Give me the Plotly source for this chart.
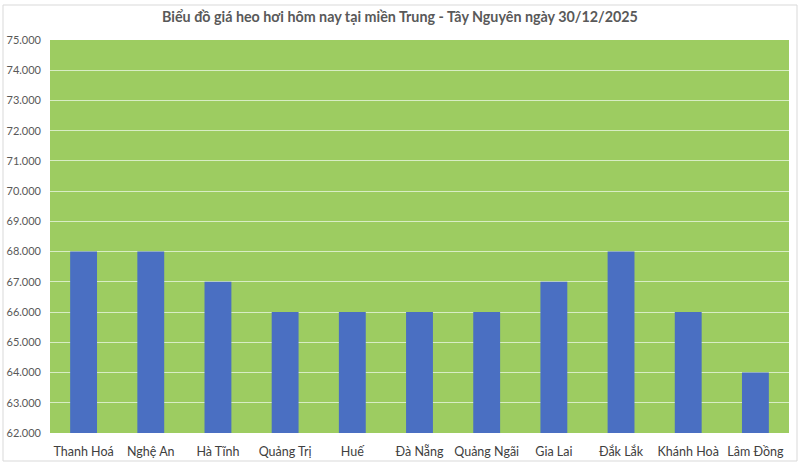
import plotly.graph_objects as go

provinces = ["Thanh Hoá", "Nghệ An", "Hà Tĩnh", "Quảng Trị", "Huế", "Đà Nẵng",
             "Quảng Ngãi", "Gia Lai", "Đắk Lắk", "Khánh Hoà", "Lâm Đồng"]
prices = [68000, 68000, 67000, 66000, 66000, 66000, 66000, 67000, 68000, 66000, 64000]
y_ticks = list(range(62000, 75001, 1000))

W, H = 800, 468
ml, mr, mt, mb = 50, 11, 40, 35
pw, ph = W - ml - mr, H - mt - mb

fig = go.Figure(go.Bar(
    x=provinces, y=prices,
    marker=dict(color="#4A6FC2", line=dict(width=0)),
    hoverinfo="x+y",
))

font_family = "Lato, 'Open Sans', sans-serif"
fig.update_layout(
    width=W, height=H,
    margin=dict(l=ml, r=mr, t=mt, b=mb, autoexpand=False),
    paper_bgcolor="white",
    plot_bgcolor="#9DCC61",
    separators=",.",
    bargap=0.6,
    showlegend=False,
    title=dict(text="<b>Biểu đồ giá heo hơi hôm nay tại miền Trung - Tây Nguyên ngày 30/12/2025</b>",
               x=0.5, xanchor="center", y=1 - 17 / H, yanchor="middle",
               font=dict(family=font_family, size=14.3, color="#595959")),
    font=dict(family=font_family, size=12, color="#595959"),
    xaxis=dict(showgrid=False, showline=False, ticks="", zeroline=False, automargin=False,
               ticklabelstandoff=9,
               tickfont=dict(size=12.5, color="#404040", family=font_family)),
    yaxis=dict(range=[62000, 75000], tickvals=y_ticks, tickformat=",.0f",
               showgrid=True, gridcolor="#D8EDC4", gridwidth=1, automargin=False,
               zeroline=False, showline=False, ticks="", ticklabelstandoff=8,
               tickfont=dict(size=11, color="#595959", family=font_family)),
)

x0 = (3 - ml) / pw
x1 = (797 - ml) / pw
y0 = ((H - mb) - 461) / ph
y1 = ((H - mb) - 5) / ph
fig.add_shape(type="rect", xref="paper", yref="paper", x0=x0, x1=x1, y0=y0, y1=y1,
              line=dict(color="#D9D9D9", width=1), fillcolor="rgba(0,0,0,0)", layer="below")

fig.write_html("out.html", config={"displayModeBar": False},
               post_script="document.body.style.margin='0';document.body.style.overflow='hidden';")
